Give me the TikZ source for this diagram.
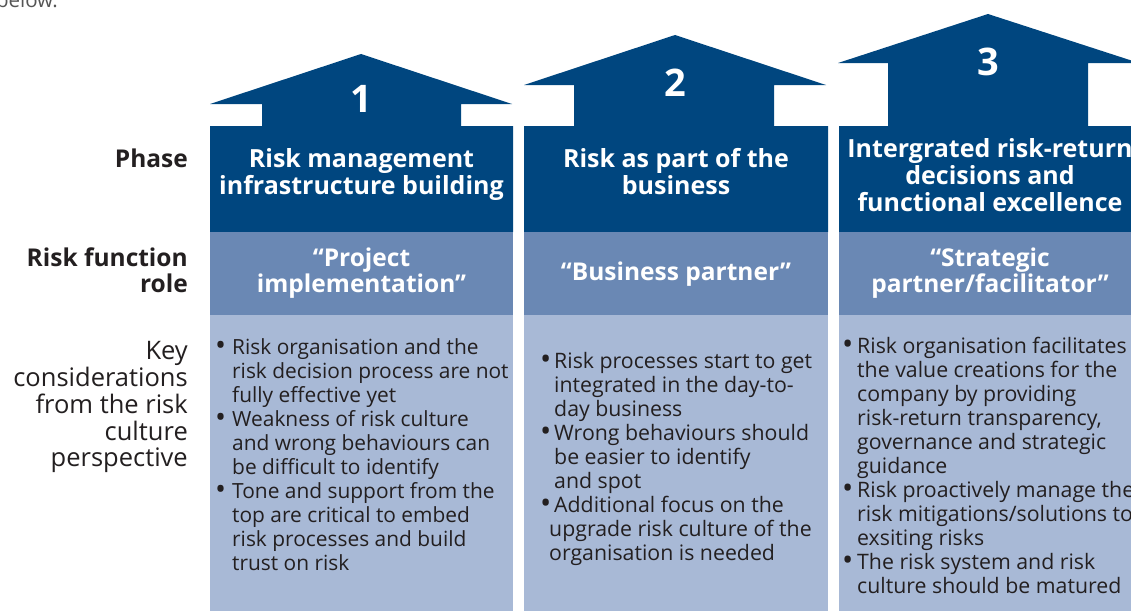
\documentclass[tikz,border=0pt]{standalone}
\usepackage{fontspec}
\setmainfont{Open Sans}
\definecolor{darkblue}{HTML}{00467F}
\definecolor{midblue}{HTML}{6A88B4}
\definecolor{lightblue}{HTML}{A8B9D6}
\definecolor{textgrey}{HTML}{231F20}
\definecolor{topgrey}{HTML}{555555}
\newcommand\mycellc[1]{\begin{tabular}[t]{@{}c@{}}#1\end{tabular}}
\newcommand\mycellr[1]{\begin{tabular}[t]{@{}r@{}}#1\end{tabular}}
\newcommand\mycelll[1]{\begin{tabular}[t]{@{}l@{}}#1\end{tabular}}
\newcommand\bul[1]{\makebox[#1][l]{\raisebox{-1.8pt}{\scalebox{1.4}{\textbullet}}}}
\begin{document}
\begin{tikzpicture}[x=1pt,y=-1pt,
  darkpart/.style={fill=darkblue,draw=none},
  midband/.style={fill=midblue,draw=none},
  lightband/.style={fill=lightblue,draw=none},
  titletext/.style={text=white,font=\bfseries\fontsize{25}{27}\selectfont,inner sep=0,anchor=base},
  numtext/.style={text=white,font=\bfseries\fontsize{38}{40}\selectfont,inner sep=0,anchor=base},
  roletext/.style={text=white,font=\bfseries\fontsize{24.5}{25.5}\selectfont,inner sep=0,anchor=base},
  bodytext/.style={text=textgrey,font=\fontsize{21.3}{24}\selectfont,inner sep=0,anchor=base west},
  boldlabel/.style={text=textgrey,font=\bfseries\fontsize{24.5}{26}\selectfont,inner sep=0,anchor=base east},
  plainlabel/.style={text=textgrey,font=\fontsize{25.5}{25.5}\selectfont,inner sep=0,anchor=base east}]
\useasboundingbox (0,0) rectangle (1131,610);
\clip (0,0) rectangle (1131,610);

% top fragment of surrounding text
\node[text=topgrey,font=\fontsize{20.5}{24}\selectfont,inner sep=0,anchor=base east] (below) at (58,8) {below.};

% column 1
\fill[darkpart] (210,104) -- (361,54) -- (512,104) -- (461,104) -- (461,126) -- (513,126)
  -- (513,232) -- (210,232) -- (210,126) -- (262,126) -- (262,104) -- cycle;
\fill[midband] (210,232) rectangle (513,315);
\fill[lightband] (210,315) rectangle (513,612);
% column 2
\fill[darkpart] (524,85) -- (675,35) -- (826,85) -- (774,85) -- (774,126) -- (828,126)
  -- (828,232) -- (524,232) -- (524,126) -- (574,126) -- (574,85) -- cycle;
\fill[midband] (524,232) rectangle (828,315);
\fill[lightband] (524,315) rectangle (828,612);
% column 3
\fill[darkpart] (838,63) -- (988,14) -- (1139,63) -- (1088,63) -- (1088,126) -- (1141,126)
  -- (1141,232) -- (839,232) -- (839,126) -- (888,126) -- (888,63) -- cycle;
\fill[midband] (839,232) rectangle (1141,315);
\fill[lightband] (839,315) rectangle (1141,612);

% numbers
\node[numtext] (n1) at (361,112) {1};
\node[numtext] (n2) at (675,96) {2};
\node[numtext] (n3) at (988,75) {3};

% phase titles
\node[titletext] (t1) at (361.5,167) {\mycellc{Risk management\\infrastructure building}};
\node[titletext] (t2) at (676,167) {\mycellc{Risk as part of the\\business}};
\node[titletext] (t3) at (990,157) {\mycellc{Intergrated risk-return\\decisions and\\functional excellence}};

% roles
\node[roletext] (r1) at (361.5,266) {\mycellc{“Project\\implementation”}};
\node[roletext] (r2) at (676,280) {“Business partner”};
\node[roletext] (r3) at (990,266) {\mycellc{“Strategic\\partner/facilitator”}};

% row labels
\node[boldlabel] (lphase) at (188,167) {Phase};
\node[boldlabel] (lrole) at (188,266) {\mycellr{Risk function\\role}};
\node[plainlabel] (lkey) at (188,359) {\mycellr{Key\ \\considerations\\from the risk\\culture\\perspective}};

% key considerations
\node[bodytext,font=\fontsize{20.9}{24}\selectfont] (k1) at (215,354) {\mycelll{%
\bul{17pt}Risk organisation and the\\
\hspace*{17pt}risk decision process are not\\
\hspace*{17pt}fully effective yet\\
\bul{17pt}Weakness of risk culture\\
\hspace*{17pt}and wrong behaviours can\\
\hspace*{17pt}be difficult to identify\\
\bul{17pt}Tone and support from the\\
\hspace*{17pt}top are critical to embed\\
\hspace*{17pt}risk processes and build\\
\hspace*{17pt}trust on risk}};
\node[bodytext] (k2) at (540,368) {\mycelll{%
\bul{14pt}Risk processes start to get\\
\hspace*{14pt}integrated in the day-to-\\
\hspace*{14pt}day business\\
\bul{14pt}Wrong behaviours should\\
\hspace*{14pt}be easier to identify\\
\hspace*{14pt}and spot\\
\bul{14pt}Additional focus on the\\
\hspace*{9pt}upgrade risk culture of the\\
\hspace*{9pt}organisation is needed}};
\node[bodytext] (k3) at (842,353) {\mycelll{%
\bul{15pt}Risk organisation facilitates\\
\hspace*{15pt}the value creations for the\\
\hspace*{15pt}company by providing\\
\hspace*{15pt}risk-return transparency,\\
\hspace*{15pt}governance and strategic\\
\hspace*{15pt}guidance\\
\bul{15pt}Risk proactively manage the\\
\hspace*{15pt}risk mitigations/solutions to\\
\hspace*{15pt}exsiting risks\\
\bul{15pt}The risk system and risk\\
\hspace*{15pt}culture should be matured}};
\end{tikzpicture}
\end{document}
